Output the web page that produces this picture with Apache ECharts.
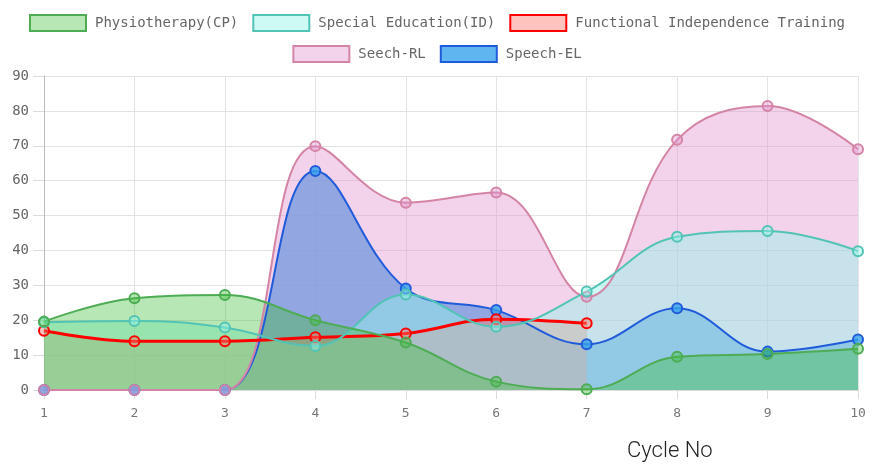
<!DOCTYPE html>
<html>
<head>
<meta charset="utf-8">
<script src="https://cdn.jsdelivr.net/npm/echarts@6/dist/echarts.min.js"></script>
<style>
html,body{margin:0;padding:0;background:#fff;}
#chart{width:874px;height:472px;}
</style>
</head>
<body>
<div id="chart"></div>
<script>
var categories = ['1','2','3','4','5','6','7','8','9','10'];
var yTicks = [0,10,20,30,40,50,60,70,80,90];
var physiotherapy = [19.6, 26.3, 27.2, 20.0, 13.6, 2.4, 0.2, 9.5, 10.3, 11.8];
var specialEducation = [19.4, 19.8, 17.9, 12.6, 27.4, 18.1, 28.2, 43.9, 45.6, 39.8];
var functionalTraining = [17.0, 14.0, 14.0, 15.1, 16.2, 20.3, 19.1];
var speechRL = [0, 0, 0, 69.9, 53.7, 56.6, 26.7, 71.7, 81.4, 69.0];
var speechEL = [0, 0, 0, 62.8, 29.1, 22.9, 13.1, 23.4, 11.0, 14.5];

var names = ['Physiotherapy(CP)', 'Special Education(ID)', 'Functional Independence Training', 'Seech-RL', 'Speech-EL'];
var styles = {
  'Physiotherapy(CP)': {line: 'rgb(78,172,84)', fill: 'rgba(60,190,52,0.37)', w: 2},
  'Special Education(ID)': {line: 'rgb(82,196,182)', fill: 'rgba(147,244,233,0.45)', w: 2},
  'Functional Independence Training': {line: 'rgb(255,0,0)', fill: 'rgba(255,121,110,0.45)', w: 3},
  'Seech-RL': {line: 'rgb(212,132,165)', fill: 'rgba(225,145,205,0.4)', w: 2},
  'Speech-EL': {line: 'rgb(32,92,218)', fill: 'rgba(54,162,235,0.8)', w: 2}
};
var dataByName = {
  'Physiotherapy(CP)': physiotherapy,
  'Special Education(ID)': specialEducation,
  'Functional Independence Training': functionalTraining,
  'Seech-RL': speechRL,
  'Speech-EL': speechEL
};

function mkSeries(name) {
  var s = styles[name];
  return {
    name: name,
    type: 'line',
    data: dataByName[name],
    smooth: 0.4,
    symbol: 'circle',
    symbolSize: 10,
    showSymbol: true,
    lineStyle: {color: s.line, width: s.w},
    itemStyle: {color: s.fill, borderColor: s.line, borderWidth: 2},
    areaStyle: {color: s.fill, opacity: 1},
    emphasis: {disabled: true},
    animation: false
  };
}
function legendItems(list) {
  return list.map(function (n) {
    return {name: n, itemStyle: {color: styles[n].fill, borderColor: styles[n].line, borderWidth: 2}};
  });
}
var legendCommon = {
  icon: 'rect',
  itemWidth: 56,
  itemHeight: 16,
  itemGap: 14,
  selectedMode: false,
  textStyle: {fontFamily: 'DejaVu Sans Mono', fontSize: 14, color: '#666', padding: [0, 0, 0, 4]}
};

var chart = echarts.init(document.getElementById('chart'), null, {renderer: 'canvas'});
chart.setOption({
  backgroundColor: '#fff',
  animation: false,
  legend: [
    Object.assign({}, legendCommon, {left: 'center', top: 9, data: legendItems(names.slice(0, 3))}),
    Object.assign({}, legendCommon, {left: 'center', top: 40, data: legendItems(names.slice(3))})
  ],
  grid: {left: 44, right: 16, top: 76, bottom: 82, containLabel: false},
  xAxis: {
    type: 'category',
    data: categories,
    boundaryGap: false,
    axisLine: {show: true, lineStyle: {color: '#dcdcdc'}},
    axisTick: {show: true, length: 9, lineStyle: {color: '#dcdcdc'}},
    axisLabel: {fontFamily: 'DejaVu Sans Mono', fontSize: 13, color: '#777', margin: 17},
    splitLine: {show: true, lineStyle: {color: '#e3e3e3'}}
  },
  yAxis: {
    type: 'value',
    min: yTicks[0],
    max: yTicks[yTicks.length - 1],
    interval: 10,
    axisLine: {show: true, lineStyle: {color: '#bbb'}},
    axisTick: {show: true, length: 11, lineStyle: {color: '#dcdcdc'}},
    axisLabel: {fontFamily: 'DejaVu Sans Mono', fontSize: 14, color: '#666', margin: 15},
    splitLine: {show: true, lineStyle: {color: '#e3e3e3'}}
  },
  graphic: [{
    type: 'text',
    left: 627,
    top: 440,
    style: {text: 'Cycle No', fontFamily: 'Roboto', fontSize: 22, fontWeight: 300, fill: '#222'}
  }],
  series: [
    mkSeries('Speech-EL'),
    mkSeries('Seech-RL'),
    mkSeries('Functional Independence Training'),
    mkSeries('Special Education(ID)'),
    mkSeries('Physiotherapy(CP)')
  ]
});
</script>
</body>
</html>
